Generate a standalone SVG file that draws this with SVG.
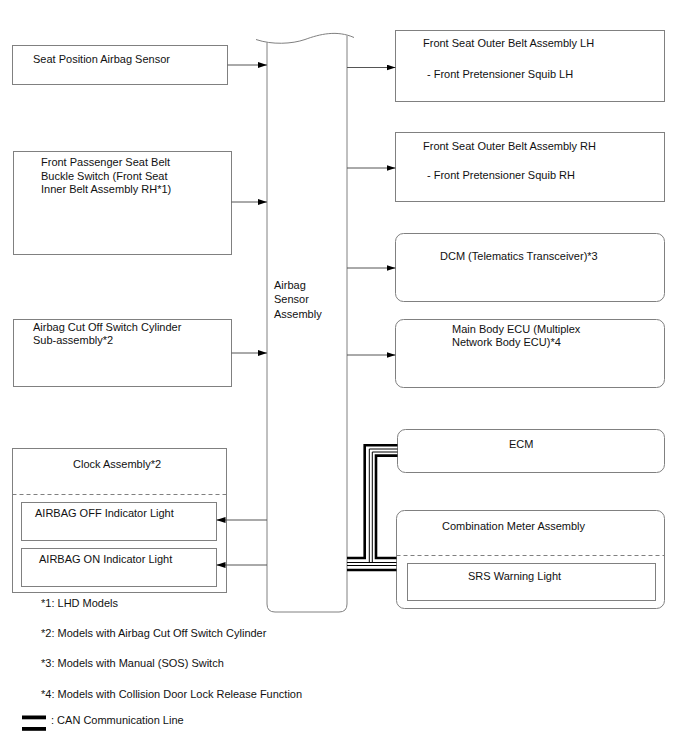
<svg xmlns="http://www.w3.org/2000/svg" width="688" height="755" viewBox="0 0 688 755">
<defs>
<marker id="ah" markerWidth="9" markerHeight="6" refX="9" refY="3" orient="auto" markerUnits="userSpaceOnUse">
<path d="M0,0 L9,3 L0,6 Z" fill="#000"/>
</marker>
<style>
text{font-family:"Liberation Sans",Arial,sans-serif;font-size:11px;fill:#111}
.box{fill:#fff;stroke:#808080;stroke-width:1}
.dash{stroke:#808080;stroke-width:1;stroke-dasharray:4,3;fill:none}
.arr{stroke:#555;stroke-width:1;fill:none;marker-end:url(#ah)}
.can{stroke:#000;stroke-width:2.6;fill:none}
.canthin{stroke:#000;stroke-width:1;fill:none}
</style>
</defs>
<rect width="688" height="755" fill="#fff"/>

<g id="seat-position">
<rect class="box" x="12.5" y="45.5" width="215" height="39"/>
<text x="33" y="63">Seat Position Airbag Sensor</text>
</g>

<g id="front-passenger">
<rect class="box" x="13.5" y="151.5" width="218" height="103"/>
<text x="41" y="166">Front Passenger Seat Belt</text>
<text x="41" y="179.5">Buckle Switch (Front Seat</text>
<text x="41" y="193">Inner Belt Assembly RH*1)</text>
</g>

<g id="cut-off">
<rect class="box" x="13.5" y="319.5" width="218" height="67"/>
<text x="33" y="331">Airbag Cut Off Switch Cylinder</text>
<text x="33" y="344">Sub-assembly*2</text>
</g>

<g id="clock">
<rect class="box" x="12.5" y="448.5" width="214" height="144"/>
<line class="dash" x1="12.5" y1="494.5" x2="226.5" y2="494.5"/>
<text x="73" y="468">Clock Assembly*2</text>
<g id="airbag-off">
<rect class="box" x="21.5" y="502.5" width="195" height="38"/>
<text x="35" y="517">AIRBAG OFF Indicator Light</text>
</g>
<g id="airbag-on">
<rect class="box" x="21.5" y="548.5" width="195" height="38"/>
<text x="39" y="563">AIRBAG ON Indicator Light</text>
</g>
</g>

<g id="airbag-sensor">
<path class="box" d="M267,42.5 V604 Q267,612 275,612 H339 Q347,612 347,604 V35.5"/>
<path d="M256,39.5 C272,45 292,44 305,39.5 C320,34 337,30 354,37.5" fill="none" stroke="#808080" stroke-width="1"/>
<text x="274" y="289">Airbag</text>
<text x="274" y="303">Sensor</text>
<text x="274" y="318">Assembly</text>
</g>

<g id="belt-lh">
<rect class="box" x="395.5" y="30.5" width="269" height="71"/>
<text x="423" y="47">Front Seat Outer Belt Assembly LH</text>
<text x="427" y="78">- Front Pretensioner Squib LH</text>
</g>

<g id="belt-rh">
<rect class="box" x="395.5" y="132.5" width="269" height="69"/>
<text x="423" y="150">Front Seat Outer Belt Assembly RH</text>
<text x="427" y="179">- Front Pretensioner Squib RH</text>
</g>

<g id="dcm">
<rect class="box" x="395.5" y="233.5" width="269" height="68" rx="8"/>
<text x="440" y="260">DCM (Telematics Transceiver)*3</text>
</g>

<g id="main-body">
<rect class="box" x="395.5" y="319.5" width="269" height="68" rx="8"/>
<text x="452" y="333">Main Body ECU (Multiplex</text>
<text x="452" y="345.5">Network Body ECU)*4</text>
</g>

<g id="ecm">
<rect class="box" x="397.5" y="429.5" width="267" height="43" rx="8"/>
<text x="509" y="448">ECM</text>
</g>

<g id="combination-meter">
<rect class="box" x="396.5" y="510.5" width="268" height="98" rx="8"/>
<line class="dash" x1="396.5" y1="555.5" x2="664.5" y2="555.5"/>
<text x="442" y="530">Combination Meter Assembly</text>
<g id="srs-light">
<rect class="box" x="407.5" y="563.5" width="248" height="37"/>
<text x="468" y="580">SRS Warning Light</text>
</g>
</g>

<g id="connectors">
<line class="arr" x1="227.5" y1="65" x2="267" y2="65"/>
<line class="arr" x1="231.5" y1="202" x2="267" y2="202"/>
<line class="arr" x1="231.5" y1="353" x2="267" y2="353"/>
<line class="arr" x1="347" y1="67.5" x2="395.5" y2="67.5"/>
<line class="arr" x1="347" y1="168" x2="395.5" y2="168"/>
<line class="arr" x1="347" y1="268" x2="395.5" y2="268"/>
<line class="arr" x1="347" y1="355" x2="395.5" y2="355"/>
<line class="arr" x1="267" y1="520" x2="216.5" y2="520"/>
<line class="arr" x1="267" y1="565" x2="216.5" y2="565"/>
<g id="can-bus">
<path class="can" d="M347,558 H364.7 V445.2 H397.5"/>
<path class="can" d="M397.5,455.6 H376 V558 H396.5"/>
<path class="canthin" d="M397.5,449 H369.3 V562.5"/>
<path class="canthin" d="M397.5,452 H372.3 V562.5"/>
<line class="canthin" x1="347" y1="562.5" x2="396.5" y2="562.5"/>
<line class="canthin" x1="347" y1="565.5" x2="396.5" y2="565.5"/>
<line class="can" x1="347" y1="570" x2="396.5" y2="570"/>
</g>
</g>

<g id="notes">
<text x="41" y="607">*1: LHD Models</text>
<text x="41" y="637">*2: Models with Airbag Cut Off Switch Cylinder</text>
<text x="41" y="667">*3: Models with Manual (SOS) Switch</text>
<text x="41" y="698">*4: Models with Collision Door Lock Release Function</text>
<rect x="22" y="715.5" width="24" height="3.8" fill="#000"/>
<rect x="22" y="727" width="24" height="3.8" fill="#000"/>
<text x="51" y="724">: CAN Communication Line</text>
</g>
</svg>
